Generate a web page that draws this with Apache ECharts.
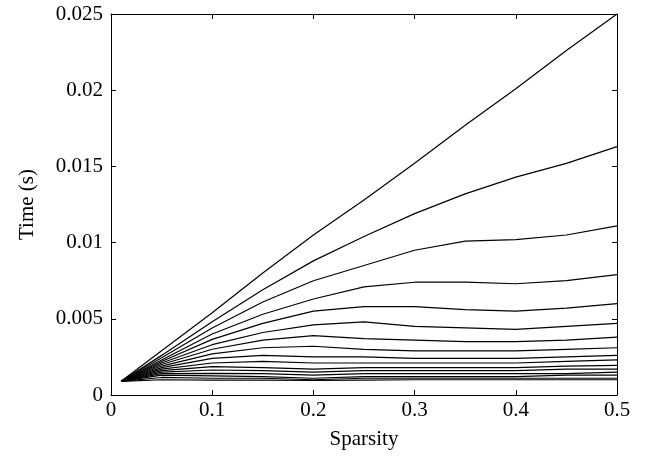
<!DOCTYPE html>
<html>
<head>
<meta charset="utf-8">
<script src="https://cdn.jsdelivr.net/npm/echarts@6/dist/echarts.min.js"></script>
<style>
	html, body { margin: 0; padding: 0; background: #fff; }
	#chart { width: 655px; height: 459px; }
</style>
</head>
<body>
<div id="chart"></div>
<script>
// sparsity values where the curves were sampled
var sparsity = [0.01, 0.05, 0.1, 0.15, 0.2, 0.25, 0.3, 0.35, 0.4, 0.45, 0.5]

// time (s), one array per curve, top to bottom
var t1  = [0.0009, 0.0029, 0.0054, 0.0080, 0.0105, 0.0128, 0.0152, 0.0177, 0.0201, 0.0226, 0.0250]
var t2  = [0.0009, 0.0026, 0.0048, 0.0069, 0.0088, 0.0104, 0.0119, 0.0132, 0.0143, 0.0152, 0.0163]
var t3  = [0.0009, 0.00245, 0.0044, 0.0061, 0.0075, 0.0085, 0.0095, 0.0101, 0.0102, 0.0105, 0.0111]
var t4  = [0.0009, 0.0023, 0.0040, 0.0053, 0.0063, 0.0071, 0.0074, 0.0074, 0.0073, 0.0075, 0.0079]
var t5  = [0.0009, 0.0022, 0.00365, 0.0047, 0.0055, 0.0058, 0.0058, 0.0056, 0.0055, 0.0057, 0.0060]
var t6  = [0.0009, 0.0021, 0.0033, 0.0041, 0.0046, 0.0048, 0.0045, 0.0044, 0.0043, 0.0045, 0.0047]
var t7  = [0.0009, 0.0020, 0.0030, 0.0036, 0.0039, 0.0037, 0.0036, 0.0035, 0.0035, 0.0036, 0.0038]
var t8  = [0.0009, 0.0019, 0.0027, 0.0031, 0.0032, 0.0030, 0.0029, 0.0029, 0.0029, 0.0030, 0.0031]
var t9  = [0.0009, 0.0018, 0.0024, 0.0026, 0.0025, 0.0025, 0.0024, 0.0024, 0.0024, 0.0025, 0.0026]
var t10 = [0.0009, 0.0017, 0.0021, 0.0022, 0.0021, 0.0021, 0.0021, 0.0021, 0.0021, 0.0022, 0.0023]
var t11 = [0.0009, 0.0016, 0.00186, 0.0018, 0.0017, 0.0018, 0.0018, 0.0018, 0.0018, 0.0019, 0.00195]
var t12 = [0.0009, 0.0015, 0.00164, 0.0016, 0.0015, 0.0016, 0.0016, 0.0016, 0.0016, 0.0017, 0.0017]
var t13 = [0.0009, 0.0014, 0.00142, 0.0014, 0.0013, 0.0014, 0.0014, 0.0014, 0.0014, 0.0014, 0.0015]
var t14 = [0.0009, 0.0013, 0.00125, 0.0012, 0.0011, 0.0012, 0.0012, 0.0012, 0.0012, 0.0013, 0.0013]
var t15 = [0.0009, 0.00115, 0.0011, 0.0011, 0.0010, 0.0011, 0.0011, 0.0011, 0.0011, 0.0011, 0.0011]
var t16 = [0.0009, 0.0010, 0.00098, 0.00098, 0.00095, 0.00098, 0.0010, 0.0010, 0.0010, 0.0010, 0.0010]

var curves = [t1, t2, t3, t4, t5, t6, t7, t8, t9, t10, t11, t12, t13, t14, t15, t16]

var font = 'Liberation Serif'

var chart = echarts.init(document.getElementById('chart'))

var series = curves.map(function (ys) {
	return {
		type: 'line',
		showSymbol: false,
		xAxisIndex: 0,
		yAxisIndex: 0,
		lineStyle: { color: '#000', width: 1.2 },
		data: ys.map(function (y, i) { return [sparsity[i], y] })
	}
})

// top / right axes only close the box, with inward ticks and no labels
function boxAxis(pos) {
	var isX = pos === 'top'
	return {
		type: 'value',
		position: pos,
		min: 0,
		max: isX ? 0.5 : 0.025,
		interval: isX ? 0.1 : 0.005,
		axisLine: { show: true, onZero: false, lineStyle: { color: '#000', width: 1 } },
		axisTick: { show: true, inside: true, length: 5, lineStyle: { color: '#000' } },
		axisLabel: { show: false },
		splitLine: { show: false }
	}
}

chart.setOption({
	animation: false,
	grid: { left: 111, right: 38, top: 14, bottom: 64 },
	xAxis: [
		{
			type: 'value',
			min: 0,
			max: 0.5,
			interval: 0.1,
			name: 'Sparsity',
			nameLocation: 'middle',
			nameGap: 34,
			nameTextStyle: { fontFamily: font, fontSize: 21, color: '#000' },
			axisLine: { show: true, onZero: false, lineStyle: { color: '#000', width: 1 } },
			axisTick: { show: true, inside: true, length: 5, lineStyle: { color: '#000' } },
			axisLabel: { fontFamily: font, fontSize: 21, color: '#000', margin: 5 },
			splitLine: { show: false }
		},
		boxAxis('top')
	],
	yAxis: [
		{
			type: 'value',
			min: 0,
			max: 0.025,
			interval: 0.005,
			name: 'Time (s)',
			nameLocation: 'middle',
			nameGap: 73,
			nameTextStyle: { fontFamily: font, fontSize: 21, color: '#000' },
			axisLine: { show: true, onZero: false, lineStyle: { color: '#000', width: 1 } },
			axisTick: { show: true, inside: true, length: 5, lineStyle: { color: '#000' } },
			axisLabel: { fontFamily: font, fontSize: 21, color: '#000', margin: 8 },
			splitLine: { show: false }
		},
		boxAxis('right')
	],
	series: series
})
</script>
</body>
</html>
